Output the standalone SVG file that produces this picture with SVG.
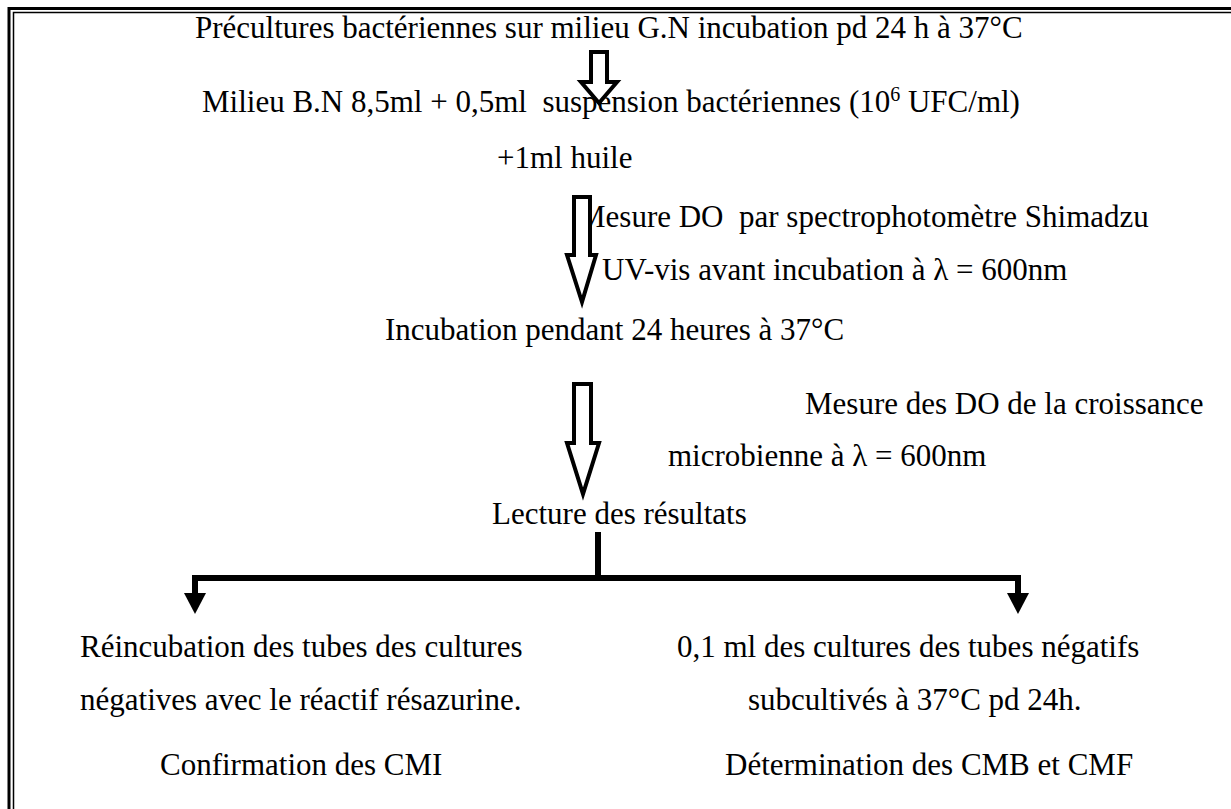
<svg xmlns="http://www.w3.org/2000/svg" width="1231" height="809" viewBox="0 0 1231 809">
  <style>
    .t { font-family: "Liberation Serif", "Times New Roman", serif; font-size: 31px; fill: #000; white-space: pre; }
    .sup { font-size: 20px; }
    .blk { fill: #fff; stroke: #000; stroke-width: 4; stroke-linejoin: miter; stroke-miterlimit: 10; }
    .bar { stroke: #000; stroke-width: 6; fill: none; }
    .head { fill: #000; }
  </style>

  <rect width="1231" height="809" fill="#fff"/>

  <!-- page frame: thick outer rule, thin inner rule -->
  <g id="frame">
    <path d="M9,809 V8.5 H1231" fill="none" stroke="#000" stroke-width="3"/>
    <path d="M13.5,809 V12.5 H1231" fill="none" stroke="#000" stroke-width="1.5"/>
  </g>

  <g id="n1"><text class="t" x="195" y="38">Précultures bactériennes sur milieu G.N incubation pd 24 h à 37°C</text></g>
  <g id="n2"><text class="t" x="202" y="112">Milieu B.N 8,5ml + 0,5ml  suspension bactériennes (10<tspan class="sup" baseline-shift="super">6</tspan> UFC/ml)</text></g>
  <g id="n3"><text class="t" x="497" y="168">+1ml huile</text></g>
  <g id="n4">
    <text class="t" x="578" y="227">Mesure DO  par spectrophotomètre Shimadzu</text>
    <text class="t" x="602" y="280">UV-vis avant incubation à λ = 600nm</text>
  </g>
  <g id="n5"><text class="t" x="385" y="340">Incubation pendant 24 heures à 37°C</text></g>
  <g id="n6">
    <text class="t" x="805" y="414">Mesure des DO de la croissance</text>
    <text class="t" x="668" y="466">microbienne à λ = 600nm</text>
  </g>
  <g id="n7"><text class="t" x="492" y="524">Lecture des résultats</text></g>
  <g id="n8">
    <text class="t" x="80" y="657">Réincubation des tubes des cultures</text>
    <text class="t" x="80" y="710">négatives avec le réactif résazurine.</text>
    <text class="t" x="160" y="775">Confirmation des CMI</text>
  </g>
  <g id="n9">
    <text class="t" x="677" y="657">0,1 ml des cultures des tubes négatifs</text>
    <text class="t" x="748" y="710">subcultivés à 37°C pd 24h.</text>
    <text class="t" x="725" y="775">Détermination des CMB et CMF</text>
  </g>

  <g id="connectors">
    <!-- hollow block arrows -->
    <polygon class="blk" points="591,52 607,52 607,82 617,82 599,103 581,82 591,82"/>
    <polygon class="blk" points="574,197 590,197 590,255 596,255 582,302 567,255 574,255"/>
    <polygon class="blk" points="574,384 591,384 591,443 599,443 583,494 567,443 574,443"/>
    <!-- branch to the two outcomes -->
    <path class="bar" d="M598,532 V578 M192,578 H1021 M195,578 V595 M1018,578 V595"/>
    <polygon class="head" points="184,593 206,593 195,614"/>
    <polygon class="head" points="1007,593 1029,593 1018,614"/>
  </g>
</svg>
